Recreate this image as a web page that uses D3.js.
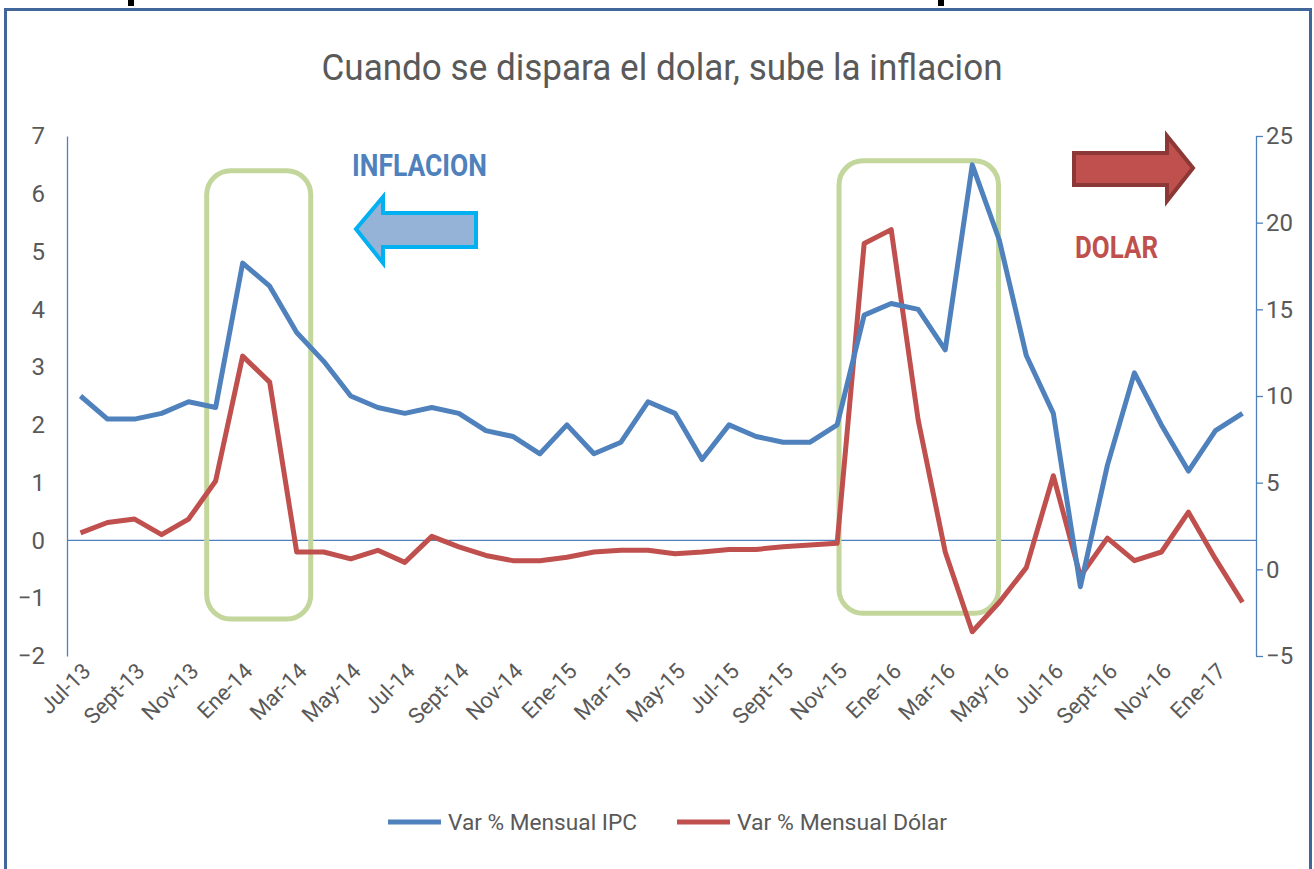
<!DOCTYPE html>
<html>
<head>
<meta charset="utf-8">
<script src="https://cdn.jsdelivr.net/npm/d3@7/dist/d3.min.js"></script>
<style>
  html, body { margin: 0; padding: 0; background: #fff; }
  svg { display: block; font-family: Roboto, "Liberation Sans", sans-serif; }
</style>
</head>
<body>
<script>
// meses (Jul-13 .. Feb-17)
const categories = [
  "Jul-13","Ago-13","Sept-13","Oct-13","Nov-13","Dic-13",
  "Ene-14","Feb-14","Mar-14","Abr-14","May-14","Jun-14","Jul-14","Ago-14","Sept-14","Oct-14","Nov-14","Dic-14",
  "Ene-15","Feb-15","Mar-15","Abr-15","May-15","Jun-15","Jul-15","Ago-15","Sept-15","Oct-15","Nov-15","Dic-15",
  "Ene-16","Feb-16","Mar-16","Abr-16","May-16","Jun-16","Jul-16","Ago-16","Sept-16","Oct-16","Nov-16","Dic-16",
  "Ene-17","Feb-17"
];

// Var % Mensual IPC (eje izquierdo)
const ipc = [
  2.5, 2.1, 2.1, 2.2, 2.4, 2.3,
  4.8, 4.4, 3.6, 3.1, 2.5, 2.3, 2.2, 2.3, 2.2, 1.9, 1.8, 1.5,
  2.0, 1.5, 1.7, 2.4, 2.2, 1.4, 2.0, 1.8, 1.7, 1.7, 2.0, 3.9,
  4.1, 4.0, 3.3, 6.5, 5.2, 3.2, 2.2, -0.8, 1.3, 2.9, 2.0, 1.2,
  1.9, 2.2
];

// Var % Mensual Dólar (eje derecho)
const dolar = [
  2.1, 2.7, 2.9, 2.0, 2.9, 5.1,
  12.3, 10.8, 1.0, 1.0, 0.6, 1.1, 0.4, 1.9, 1.3, 0.8, 0.5, 0.5,
  0.7, 1.0, 1.1, 1.1, 0.9, 1.0, 1.15, 1.15, 1.3, 1.4, 1.5, 18.8,
  19.6, 8.6, 1.0, -3.6, -1.9, 0.1, 5.4, -0.4, 1.8, 0.5, 1.0, 3.3,
  0.6, -1.9
];

const leftTicks = [-2, -1, 0, 1, 2, 3, 4, 5, 6, 7];
const rightTicks = [-5, 0, 5, 10, 15, 20, 25];

const seriesNames = ["Var % Mensual IPC", "Var % Mensual Dólar"];
const title = "Cuando se dispara el dolar, sube la inflacion";

// recuadros verdes: indice de mes (desde/hasta) y valores del eje izquierdo
const boxes = [
  { from: 4.67, to: 8.52, top: 6.4, bottom: -1.36 },
  { from: 28.07, to: 33.97, top: 6.57, bottom: -1.26 }
];

const width = 1314, height = 869;
const plot = { left: 67, right: 1256, top: 136, bottom: 656 };
const blue = "#4f81bd", red = "#c0504d", grey = "#595959";

const svg = d3.select("body").append("svg")
  .attr("width", width)
  .attr("height", height);

// marco
svg.append("rect")
  .attr("x", 5.5).attr("y", 9.5)
  .attr("width", 1305).attr("height", 900)
  .attr("fill", "none")
  .attr("stroke", "#41679a")
  .attr("stroke-width", 3);

// restos (descendentes) del encabezado cortado arriba
svg.append("g").selectAll("path")
  .data([128, 938]).join("path")
  .attr("d", (d) => `M${d},0 h6 v6 h-6 Z`)
  .attr("fill", "#000");

// escalas
const x = d3.scalePoint().domain(categories).range([plot.left, plot.right]).padding(0.5);
const xi = (i) => x(categories[0]) + i * x.step();
const yL = d3.scaleLinear().domain([-2, 7]).range([plot.bottom, plot.top]);
const yR = d3.scaleLinear().domain([-5, 25]).range([plot.bottom, plot.top]);

// titulo
svg.append("text")
  .attr("x", 662).attr("y", 80)
  .attr("text-anchor", "middle")
  .attr("font-size", 37)
  .attr("fill", grey)
  .attr("textLength", 681)
  .attr("lengthAdjust", "spacingAndGlyphs")
  .text(title);

// eje izquierdo
const gL = svg.append("g")
  .attr("transform", `translate(${plot.left},0)`)
  .call(d3.axisLeft(yL).tickValues(leftTicks).tickSize(0).tickSizeOuter(0).tickPadding(22));
gL.select(".domain").attr("stroke", blue).attr("stroke-width", 1.3);
gL.selectAll("text").attr("font-size", 24).attr("fill", grey).attr("font-family", "Roboto");

// eje derecho
const gR = svg.append("g")
  .attr("transform", `translate(${plot.right},0)`)
  .call(d3.axisRight(yR).tickValues(rightTicks).tickSize(7).tickSizeOuter(0).tickPadding(3));
gR.select(".domain").attr("stroke", blue).attr("stroke-width", 1.3);
gR.selectAll(".tick line").attr("stroke", blue).attr("stroke-width", 1.3);
gR.selectAll("text").attr("font-size", 24).attr("fill", grey).attr("font-family", "Roboto");

// eje horizontal en cero
svg.append("line")
  .attr("x1", plot.left).attr("x2", plot.right)
  .attr("y1", yL(0)).attr("y2", yL(0))
  .attr("stroke", blue).attr("stroke-width", 1.3);

// etiquetas de meses (cada dos)
svg.append("g").selectAll("text")
  .data(categories.filter((d, i) => i % 2 === 0))
  .join("text")
  .attr("transform", (d) => `translate(${x(d) + 6},${667}) rotate(-45)`)
  .attr("text-anchor", "end")
  .attr("dy", "0.35em")
  .attr("font-size", 22)
  .attr("fill", grey)
  .text((d) => d);

// recuadros verdes
svg.append("g").selectAll("rect")
  .data(boxes).join("rect")
  .attr("x", (d) => xi(d.from))
  .attr("y", (d) => yL(d.top))
  .attr("width", (d) => xi(d.to) - xi(d.from))
  .attr("height", (d) => yL(d.bottom) - yL(d.top))
  .attr("rx", 24)
  .attr("fill", "none")
  .attr("stroke", "#c3d69b")
  .attr("stroke-width", 5);

// lineas
const lineL = d3.line().x((d, i) => x(categories[i])).y((d) => yL(d));
const lineR = d3.line().x((d, i) => x(categories[i])).y((d) => yR(d));

svg.append("path")
  .datum(dolar)
  .attr("d", lineR)
  .attr("fill", "none")
  .attr("stroke", red)
  .attr("stroke-width", 5)
  .attr("stroke-linejoin", "round");

svg.append("path")
  .datum(ipc)
  .attr("d", lineL)
  .attr("fill", "none")
  .attr("stroke", blue)
  .attr("stroke-width", 5)
  .attr("stroke-linejoin", "round");

// flechas y textos
svg.append("path")
  .attr("d", "M356,229 L383,197 L383,213 L476,213 L476,247 L383,247 L383,263 Z")
  .attr("fill", "#95b3d7")
  .attr("stroke", "#00b0f0")
  .attr("stroke-width", 4);

svg.append("text")
  .attr("x", 352).attr("y", 176)
  .attr("font-size", 31).attr("font-weight", "bold")
  .attr("fill", blue)
  .attr("textLength", 135).attr("lengthAdjust", "spacingAndGlyphs")
  .text("INFLACION");

svg.append("path")
  .attr("d", "M1074,153 L1167,153 L1167,136 L1193,168 L1167,201 L1167,185 L1074,185 Z")
  .attr("fill", red)
  .attr("stroke", "#8c3836")
  .attr("stroke-width", 4);

svg.append("text")
  .attr("x", 1075).attr("y", 258)
  .attr("font-size", 32).attr("font-weight", "bold")
  .attr("fill", red)
  .attr("textLength", 83).attr("lengthAdjust", "spacingAndGlyphs")
  .text("DOLAR");

// leyenda
const legend = [
  { name: seriesNames[0], color: blue, x: 388, w: 189 },
  { name: seriesNames[1], color: red, x: 677, w: 210 }
];
const lg = svg.append("g").selectAll("g").data(legend).join("g")
  .attr("transform", (d) => `translate(${d.x},822)`);
lg.append("line")
  .attr("x1", 0).attr("x2", 53)
  .attr("stroke", (d) => d.color)
  .attr("stroke-width", 5);
lg.append("text")
  .attr("x", 60).attr("y", 8)
  .attr("font-size", 22)
  .attr("fill", grey)
  .attr("textLength", (d) => d.w).attr("lengthAdjust", "spacingAndGlyphs")
  .text((d) => d.name);
</script>
</body>
</html>
